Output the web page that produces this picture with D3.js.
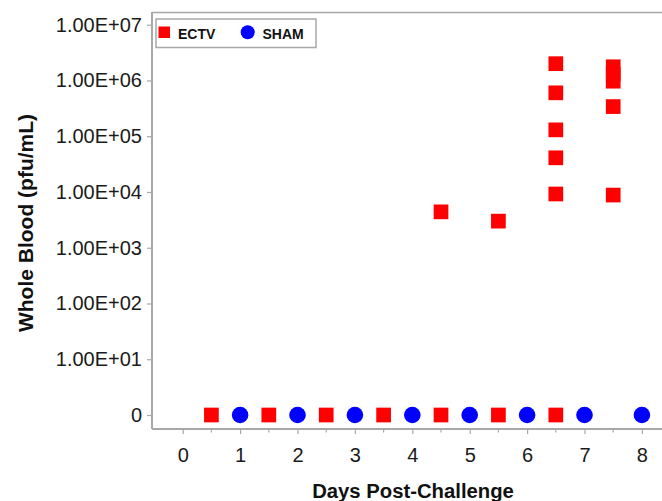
<!DOCTYPE html>
<html>
<head>
<meta charset="utf-8">
<script src="https://cdn.jsdelivr.net/npm/d3@7/dist/d3.min.js"></script>
<style>
  html, body { margin: 0; padding: 0; background: #fff; }
  svg { display: block; }
  text { font-family: "Liberation Sans", Arial, sans-serif; }
</style>
</head>
<body>
<svg id="chart" width="662" height="501"></svg>
<script>
// Virus titre in whole blood by day after challenge (0 = below detection)
const ectvDays   = [0.5, 1.5, 2.5, 3.5, 4.5, 5.5, 6.5,
                    4.5, 5.5,
                    6.5, 6.5, 6.5, 6.5, 6.5,
                    7.5, 7.5, 7.5, 7.5, 7.5];
const ectvValues = [0, 0, 0, 0, 0, 0, 0,
                    4400, 3000,
                    2.0e6, 6.0e5, 1.3e5, 4.1e4, 9.2e3,
                    1.76e6, 1.3e6, 9.7e5, 3.4e5, 8.8e3];
const shamDays   = [1, 2, 3, 4, 5, 6, 7, 8];
const shamValues = [0, 0, 0, 0, 0, 0, 0, 0];

const yTickValues = [1, 10, 100, 1e3, 1e4, 1e5, 1e6, 1e7];
const yTickLabels = ["0", "1.00E+01", "1.00E+02", "1.00E+03", "1.00E+04", "1.00E+05", "1.00E+06", "1.00E+07"];
const xTickValues = [0, 1, 2, 3, 4, 5, 6, 7, 8];
const xMinorTicks = [0.5, 1.5, 2.5, 3.5, 4.5, 5.5, 6.5, 7.5];

const seriesNames  = ["ECTV", "SHAM"];
const seriesColors = ["#ff0000", "#0000ff"];

const svg = d3.select("#chart");

// plot frame
const plotLeft = 152, plotRight = 662, plotTop = 12, plotBottom = 429;

const x = d3.scaleLinear().domain([-0.535, 8.35]).range([plotLeft, plotRight]);
const y = d3.scaleLog().domain([1, 1e7]).range([415, 24.7]);
// zero readings sit on the "0" row of the log axis
const yVal = v => y(v <= 0 ? 1 : v);

const axisColor = "#a8a8a8";

// top frame line
svg.append("line").attr("x1", plotLeft).attr("x2", plotRight)
  .attr("y1", plotTop + 0.5).attr("y2", plotTop + 0.5)
  .attr("stroke", axisColor).attr("stroke-width", 1.5);

// y axis
const yAxis = d3.axisLeft(y)
  .tickValues(yTickValues)
  .tickFormat((d, i) => yTickLabels[i])
  .tickSize(5)
  .tickPadding(5);
const gy = svg.append("g").attr("transform", `translate(${plotLeft},0)`).call(yAxis);
gy.select(".domain").remove();
gy.selectAll(".tick line").attr("stroke", axisColor).attr("stroke-width", 1.2);
gy.selectAll(".tick text").attr("font-size", 20).attr("fill", "#1a1a1a")
  .attr("font-family", '"Liberation Sans", Arial, sans-serif');
svg.append("line").attr("x1", plotLeft).attr("x2", plotLeft)
  .attr("y1", plotTop).attr("y2", plotBottom)
  .attr("stroke", axisColor).attr("stroke-width", 2);

// x axis
const xAxis = d3.axisBottom(x)
  .tickValues(xTickValues)
  .tickFormat(d3.format("d"))
  .tickSize(5)
  .tickPadding(14);
const gx = svg.append("g").attr("transform", `translate(0,${plotBottom})`).call(xAxis);
gx.select(".domain").remove();
gx.selectAll(".tick line").attr("stroke", axisColor).attr("stroke-width", 1.2);
gx.selectAll(".tick text").attr("font-size", 20).attr("fill", "#1a1a1a")
  .attr("font-family", '"Liberation Sans", Arial, sans-serif');
gx.selectAll(".minor").data(xMinorTicks).enter().append("line")
  .attr("class", "minor")
  .attr("x1", d => x(d)).attr("x2", d => x(d))
  .attr("y1", 0).attr("y2", 3.5)
  .attr("stroke", axisColor).attr("stroke-width", 1.2);
svg.append("line").attr("x1", plotLeft).attr("x2", plotRight)
  .attr("y1", plotBottom).attr("y2", plotBottom)
  .attr("stroke", axisColor).attr("stroke-width", 2);

// axis titles
svg.append("text")
  .attr("x", 413).attr("y", 498)
  .attr("text-anchor", "middle")
  .attr("font-size", 20.3).attr("font-weight", "bold").attr("fill", "#111")
  .text("Days Post-Challenge");
svg.append("text")
  .attr("transform", "translate(32.5,223) rotate(-90)")
  .attr("text-anchor", "middle")
  .attr("font-size", 21).attr("font-weight", "bold").attr("fill", "#111")
  .text("Whole Blood (pfu/mL)");

// ECTV squares
const sq = 14.7;
svg.append("g").selectAll("rect")
  .data(ectvDays.map((d, i) => ({ day: d, value: ectvValues[i] })))
  .enter().append("rect")
  .attr("x", d => x(d.day) - sq / 2)
  .attr("y", d => yVal(d.value) - sq / 2)
  .attr("width", sq).attr("height", sq)
  .attr("fill", seriesColors[0]);

// SHAM circles
svg.append("g").selectAll("circle")
  .data(shamDays.map((d, i) => ({ day: d, value: shamValues[i] })))
  .enter().append("circle")
  .attr("cx", d => x(d.day))
  .attr("cy", d => yVal(d.value))
  .attr("r", 8.3)
  .attr("fill", seriesColors[1]);

// legend
const lg = svg.append("g");
lg.append("rect").attr("x", 156).attr("y", 19).attr("width", 160).attr("height", 28.5)
  .attr("fill", "#fff").attr("stroke", axisColor).attr("stroke-width", 1.5);
lg.append("rect").attr("x", 158.5).attr("y", 26.5).attr("width", 11.5).attr("height", 11.5)
  .attr("fill", seriesColors[0]);
lg.append("text").attr("x", 178).attr("y", 38.5)
  .attr("font-size", 14).attr("font-weight", "bold").attr("fill", "#111")
  .text(seriesNames[0]);
lg.append("circle").attr("cx", 247.7).attr("cy", 32.3).attr("r", 7)
  .attr("fill", seriesColors[1]);
lg.append("text").attr("x", 262.5).attr("y", 38.5)
  .attr("font-size", 14).attr("font-weight", "bold").attr("fill", "#111")
  .text(seriesNames[1]);
</script>
</body>
</html>
